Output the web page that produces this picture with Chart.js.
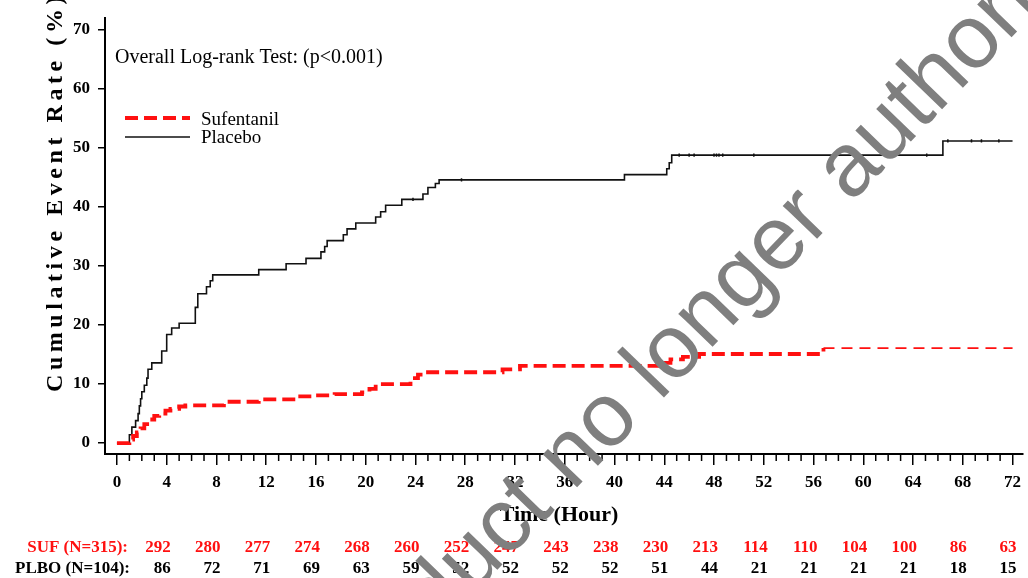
<!DOCTYPE html>
<html>
<head>
<meta charset="UTF-8">
<title>Cumulative Event Rate</title>
<script src="https://cdn.jsdelivr.net/npm/chart.js"></script>
<style>
  body { margin: 0; background: #fff; }
  #wrap { width: 1028px; height: 578px; }
</style>
</head>
<body>
<div id="wrap"><canvas id="kmChart" width="1028" height="578"></canvas></div>
<script>
  // Sufentanil curve (hours, cumulative event rate %)
  const sufTime = [0, 1.0, 1.3, 1.6, 1.9, 2.2, 2.6, 3.0, 3.4, 3.9, 4.3, 5.0, 5.5, 8.6, 11.4, 14.4, 15.7, 17.5, 19.7, 20.3, 20.8, 23.6, 24.2, 24.6, 31.0, 32.4, 44.0, 44.5, 45.5, 46.8, 56.8, 72];
  const sufRate = [0, 0.6, 1.2, 1.8, 2.5, 3.2, 4.0, 4.6, 5.0, 5.5, 5.8, 6.2, 6.4, 7.0, 7.4, 7.9, 8.1, 8.3, 8.6, 9.2, 10.0, 11.0, 11.6, 12.0, 12.5, 13.1, 13.6, 14.2, 14.6, 15.1, 16.1, 16.1];

  // Placebo curve
  const pboTime = [0, 1.0, 1.2, 1.5, 1.7, 1.8, 1.9, 2.0, 2.2, 2.4, 2.5, 2.8, 3.6, 4.0, 4.4, 5.0, 6.3, 6.5, 7.2, 7.5, 7.7, 11.4, 13.6, 15.2, 16.4, 16.7, 16.9, 18.2, 18.5, 19.2, 20.8, 21.2, 21.6, 22.9, 24.6, 25.0, 25.6, 25.9, 40.8, 44.2, 44.4, 44.6, 66.4, 72];
  const pboRate = [0, 1.4, 2.7, 3.8, 5.0, 6.3, 7.5, 8.7, 9.8, 11.0, 12.5, 13.6, 15.6, 18.4, 19.5, 20.3, 23.0, 25.3, 26.5, 27.5, 28.5, 29.4, 30.4, 31.3, 32.4, 33.3, 34.3, 35.3, 36.3, 37.3, 38.3, 39.2, 40.3, 41.3, 42.2, 43.3, 44.0, 44.6, 45.5, 46.5, 47.5, 48.8, 51.2, 51.2];

  // censoring marks on the placebo curve
  const pboCensorTime = [23.8, 27.7, 45.2, 46.0, 46.4, 48.0, 48.2, 48.4, 48.7, 51.2, 65.1, 66.8, 68.7, 69.5, 70.9];
  const pboCensorRate = [41.3, 44.6, 48.8, 48.8, 48.8, 48.8, 48.8, 48.8, 48.8, 48.8, 48.8, 51.2, 51.2, 51.2, 51.2];

  const xMajorTicks = [0, 4, 8, 12, 16, 20, 24, 28, 32, 36, 40, 44, 48, 52, 56, 60, 64, 68, 72];
  const yTicks = [0, 10, 20, 30, 40, 50, 60, 70];

  // numbers at risk
  const riskTimes = [4, 8, 12, 16, 20, 24, 28, 32, 36, 40, 44, 48, 52, 56, 60, 64, 68, 72];
  const sufAtRisk = [292, 280, 277, 274, 268, 260, 252, 247, 243, 238, 230, 213, 114, 110, 104, 100, 86, 63];
  const pboAtRisk = [86, 72, 71, 69, 63, 59, 52, 52, 52, 52, 51, 44, 21, 21, 21, 21, 18, 15];

  const RED = '#ff1010';
  const SERIF = '"Liberation Serif", "Times New Roman", serif';

  function toPoints(xs, ys) {
    return xs.map((t, i) => ({ x: t, y: ys[i] }));
  }

  // texts, legend, minor ticks, risk table, watermark
  const overlay = {
    id: 'overlay',
    afterDraw(chart) {
      const ctx = chart.ctx;
      const xs = chart.scales.x;
      const area = chart.chartArea;
      ctx.save();

      // minor ticks every hour
      ctx.strokeStyle = '#000';
      ctx.lineWidth = 1.5;
      for (let h = 0; h <= 72; h++) {
        if (h % 4 === 0) continue;
        const px = xs.getPixelForValue(h);
        ctx.beginPath();
        ctx.moveTo(px, area.bottom);
        ctx.lineTo(px, area.bottom + 7);
        ctx.stroke();
      }

      // y axis title, spaced letters
      const yTitle = 'Cumulative Event Rate (%)';
      ctx.font = 'bold 24px ' + SERIF;
      ctx.fillStyle = '#000';
      ctx.textBaseline = 'alphabetic';
      ctx.textAlign = 'left';
      const plain = ctx.measureText(yTitle).width;
      const spacing = (400 - plain) / yTitle.length;
      ctx.save();
      ctx.translate(62, 392);
      ctx.rotate(-Math.PI / 2);
      let pos = 0;
      for (const ch of yTitle) {
        ctx.fillText(ch, pos, 0);
        pos += ctx.measureText(ch).width + spacing;
      }
      ctx.restore();

      // log-rank text
      ctx.font = '20px ' + SERIF;
      ctx.fillText('Overall Log-rank Test: (p<0.001)', 115, 63);

      // legend
      ctx.lineWidth = 3.8;
      ctx.strokeStyle = RED;
      ctx.setLineDash([13, 6]);
      ctx.beginPath();
      ctx.moveTo(125, 118);
      ctx.lineTo(190, 118);
      ctx.stroke();
      ctx.setLineDash([]);
      ctx.lineWidth = 1.5;
      ctx.strokeStyle = '#111';
      ctx.beginPath();
      ctx.moveTo(125, 137);
      ctx.lineTo(190, 137);
      ctx.stroke();
      ctx.font = '19px ' + SERIF;
      ctx.fillStyle = '#000';
      ctx.fillText('Sufentanil', 201, 125);
      ctx.fillText('Placebo', 201, 143);

      // x axis title
      ctx.font = 'bold 22px ' + SERIF;
      ctx.textAlign = 'center';
      ctx.fillText('Time (Hour)', 559, 521);

      // numbers at risk
      ctx.font = 'bold 17px ' + SERIF;
      ctx.textAlign = 'right';
      ctx.fillStyle = RED;
      ctx.fillText('SUF (N=315):', 128, 552);
      riskTimes.forEach((t, i) => ctx.fillText(String(sufAtRisk[i]), xs.getPixelForValue(t) + 4, 552));
      ctx.fillStyle = '#000';
      ctx.fillText('PLBO (N=104):', 130, 573);
      riskTimes.forEach((t, i) => ctx.fillText(String(pboAtRisk[i]), xs.getPixelForValue(t) + 4, 573));

      // watermark
      ctx.save();
      ctx.font = '90px "Liberation Sans", Arial, sans-serif';
      ctx.fillStyle = '#7f7f7f';
      ctx.textAlign = 'left';
      ctx.translate(472, 596);
      ctx.rotate(-46 * Math.PI / 180);
      const lead = ctx.measureText('Medicinal prod').width;
      ctx.fillText('Medicinal product no longer authorised', -lead, 0);
      ctx.restore();

      ctx.restore();
    }
  };

  new Chart(document.getElementById('kmChart'), {
    type: 'line',
    data: {
      datasets: [
        {
          label: 'Sufentanil',
          data: toPoints(sufTime, sufRate),
          stepped: 'before',
          borderColor: RED,
          borderWidth: 3.8,
          borderDash: [13, 6],
          pointRadius: 0,
          segment: {
            borderWidth: c => (c.p0.parsed.x >= 56.8 ? 1.8 : undefined),
            borderDash: c => (c.p0.parsed.x >= 56.8 ? [11, 7] : undefined)
          }
        },
        {
          label: 'Placebo',
          data: toPoints(pboTime, pboRate),
          stepped: 'before',
          borderColor: '#111',
          borderWidth: 1.6,
          pointRadius: 0
        },
        {
          label: 'Censored',
          data: toPoints(pboCensorTime, pboCensorRate),
          showLine: false,
          pointStyle: 'line',
          rotation: 90,
          pointRadius: 1.6,
          borderColor: '#111',
          pointBorderWidth: 1.5
        }
      ]
    },
    options: {
      responsive: false,
      animation: false,
      events: [],
      layout: { padding: { top: 14, left: 0, right: 0, bottom: 0 } },
      plugins: { legend: { display: false }, tooltip: { enabled: false } },
      scales: {
        x: {
          type: 'linear',
          min: -0.96,
          max: 72.8,
          afterBuildTicks: s => { s.ticks = xMajorTicks.map(v => ({ value: v })); },
          afterFit: s => { s.height = 124; s.paddingLeft = 0; s.paddingRight = 0; },
          grid: { drawOnChartArea: false, drawTicks: true, tickLength: 11, color: '#000', lineWidth: 1.5 },
          border: { display: true, color: '#000', width: 2 },
          ticks: {
            color: '#000',
            padding: 7,
            maxRotation: 0,
            autoSkip: false,
            font: { family: SERIF, size: 17, weight: 'bold' }
          }
        },
        y: {
          min: -1.85,
          max: 72,
          afterBuildTicks: s => { s.ticks = yTicks.map(v => ({ value: v })); },
          afterFit: s => { s.width = 105; },
          grid: { drawOnChartArea: false, drawTicks: true, tickLength: 7, color: '#000', lineWidth: 1.5 },
          border: { display: true, color: '#000', width: 2 },
          ticks: {
            color: '#000',
            padding: 8,
            font: { family: SERIF, size: 17, weight: 'bold' }
          }
        }
      }
    },
    plugins: [overlay]
  });
</script>
</body>
</html>
